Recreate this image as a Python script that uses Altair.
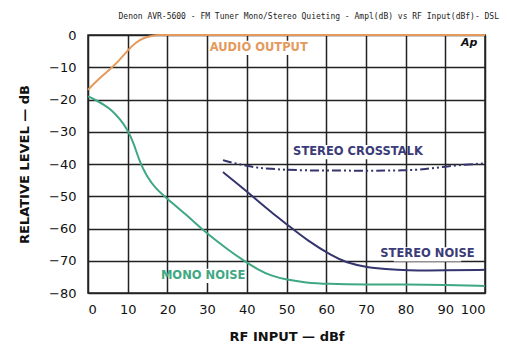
import altair as alt
import pandas as pd

# --- data ---
audio_x = [0, 2.3, 5.6, 8, 10, 12, 14, 16, 18, 20, 30, 40, 50, 60, 70, 80, 90, 100]
audio_y = [-17, -14, -10.6, -7.7, -4.8, -2.3, -0.9, -0.2, 0, 0, 0, 0, 0, 0, 0, 0, 0, 0]

mono_x = [0, 2, 4, 6, 8, 10, 11.5, 13, 14.7, 17, 20, 25, 28.3, 32, 35, 39, 43, 46, 50, 55, 60, 70, 80, 90, 100]
mono_y = [-19.0, -20.2, -21.6, -23.3, -26, -29.4, -33.5, -39.3, -43.6, -47.6, -50.8, -56, -59.8, -63.5, -66.3, -69.8, -72.9, -74.6, -75.9, -76.8, -77.2, -77.4, -77.3, -77.5, -77.8]

stnoise_x = [34, 37, 40, 42.5, 46, 50.8, 55, 61.7, 65, 70, 75, 80, 90, 100]
stnoise_y = [-42.5, -45.5, -48.5, -51.2, -54.8, -59.4, -63.5, -68.7, -70.5, -72, -72.6, -73, -73, -72.8]

xtalk_x = [34, 37, 40, 43, 46, 50, 55, 60, 70, 80, 85, 90, 95, 100]
xtalk_y = [-38.8, -39.8, -40.6, -41.2, -41.5, -41.8, -42, -42, -42.1, -42, -41.6, -40.8, -40.2, -39.8]

labels = ["AUDIO OUTPUT", "STEREO CROSSTALK", "STEREO NOISE", "MONO NOISE"]
label_x = [43, 68, 85.5, 29]
label_y = [-4, -36.3, -68, -74.7]
label_col = ["#E49A5C", "#3B3B78", "#3B3B78", "#3FA882"]
label_halfw = [8.0, 11.6, 8.5, 6.8]

frames = []
for name, xs_, ys_ in [("audio", audio_x, audio_y), ("mono", mono_x, mono_y),
                       ("stnoise", stnoise_x, stnoise_y), ("xtalk", xtalk_x, xtalk_y)]:
    frames.append(pd.DataFrame({"x": xs_, "y": ys_, "series": name}))
lines = pd.concat(frames, ignore_index=True)

lab = pd.DataFrame({"text": labels, "x": label_x, "y": label_y, "color": label_col,
                    "x1": [a - w for a, w in zip(label_x, label_halfw)],
                    "x2": [a + w for a, w in zip(label_x, label_halfw)],
                    "y1": [v - 2.2 for v in label_y], "y2": [v + 2.2 for v in label_y]})

xs = alt.Scale(domain=[0, 100], nice=False)
ys = alt.Scale(domain=[-80, 0], nice=False)

xax = alt.Axis(values=list(range(0, 101, 10)), title="RF INPUT — dBf", grid=True,
               gridColor="#222", gridWidth=1.5, gridOpacity=1, tickSize=0,
               labelFontSize=13, labelFont="DejaVu Sans", labelColor="#111", labelPadding=10,
               titleFontSize=13, titleFont="DejaVu Sans", titleFontWeight="bold",
               titlePadding=14, titleColor="#111", domain=False)
yax = alt.Axis(values=list(range(-80, 1, 10)), title="RELATIVE LEVEL — dB", grid=True,
               gridColor="#222", gridWidth=1.5, gridOpacity=1, tickSize=0,
               labelFontSize=13, labelFont="DejaVu Sans", labelColor="#111", labelPadding=12,
               titleFontSize=13, titleFont="DejaVu Sans", titleFontWeight="bold",
               titlePadding=17, titleColor="#111", domain=False)

X = lambda f: alt.X(f, scale=xs, axis=xax)
Y = lambda f: alt.Y(f, scale=ys, axis=yax)

base = alt.Chart(lines)

bg = alt.Chart(lab).mark_rect(color="white").encode(
    x=X("x1:Q"), x2="x2", y=Y("y1:Q"), y2="y2")

def line(name, color, dash=None):
    kw = dict(color=color, strokeWidth=2, interpolate="basis")
    if dash:
        kw["strokeDash"] = dash
    return base.transform_filter(alt.datum.series == name).mark_line(**kw).encode(
        x=X("x:Q"), y=Y("y:Q"))

audio = line("audio", "#E49A5C")
mono = line("mono", "#3FA882")
stn = line("stnoise", "#34346E")
xt = line("xtalk", "#34346E", [9, 3, 2, 3, 2, 3])

txt = alt.Chart(lab).mark_text(fontSize=11.5, font="DejaVu Sans", fontWeight="bold").encode(
    x=X("x:Q"), y=Y("y:Q"), text="text:N",
    color=alt.Color("color:N", scale=None))

ap = alt.Chart(pd.DataFrame({"t": ["Ap"], "x": [96], "y": [-2.5]})).mark_text(
    fontSize=11, font="DejaVu Sans", fontWeight="bold", fontStyle="italic", color="#111").encode(
    x=X("x:Q"), y=Y("y:Q"), text="t:N")

chart = alt.layer(bg, audio, mono, stn, xt, txt, ap).properties(
    width=397, height=258,
    title=alt.TitleParams("Denon AVR-5600 - FM Tuner Mono/Stereo Quieting - Ampl(dB) vs RF Input(dBf)- DSL",
                          anchor="end", fontSize=8, font="DejaVu Sans Mono", fontWeight="normal",
                          color="#222", dx=10, offset=8),
    autosize=alt.AutoSizeParams(type="none"),
    padding={"left": 80, "top": 27, "right": 14, "bottom": 56},
).configure_view(stroke="#222", strokeWidth=1.5)

chart.save("out.html", embed_options={"renderer": "svg", "actions": False})
